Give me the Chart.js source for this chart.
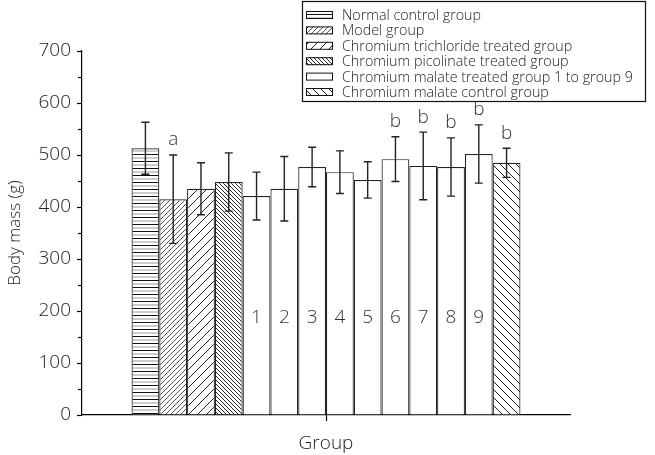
<!DOCTYPE html>
<html lang="en">
<head>
<meta charset="UTF-8">
<title>Body mass by group</title>
<script src="https://cdn.jsdelivr.net/npm/chart.js"></script>
<style>
  html, body { margin: 0; padding: 0; background: #fff; }
</style>
</head>
<body>
<canvas id="chart" width="655" height="455"></canvas>
<script>
// data
const groups = [
  "Normal control group", "Model group", "Chromium trichloride treated group",
  "Chromium picolinate treated group",
  "Group 1", "Group 2", "Group 3", "Group 4", "Group 5",
  "Group 6", "Group 7", "Group 8", "Group 9",
  "Chromium malate control group"
];
const means = [513, 415, 435, 448, 421, 435, 477, 467, 452, 492, 479, 477, 502, 485];
const sds   = [50, 85, 50, 56, 46, 62, 38, 41, 35, 43, 65, 56, 56, 28];
const marks = ["", "a", "", "", "", "", "", "", "", "b", "b", "b", "b", "b"];
const barNumbers = ["", "", "", "", "1", "2", "3", "4", "5", "6", "7", "8", "9", ""];
const fillKinds = ["hlines", "model", "crcl", "pico", "white", "white", "white", "white",
                   "white", "white", "white", "white", "white", "control"];
const legendNames = [
  "Normal control group", "Model group", "Chromium trichloride treated group",
  "Chromium picolinate treated group", "Chromium malate treated group 1 to group 9",
  "Chromium malate control group"
];
const legendBars = [0, 1, 2, 3, 4, 13];
const yMin = 0, yMax = 700, yStep = 100;

const FONT = "'Open Sans', 'Noto Sans', sans-serif";

function makePattern(kind) {
  if (kind === "white") return "#fff";
  const c = document.createElement("canvas");
  let s = 8;
  if (kind === "hlines") s = 7;
  if (kind === "model") s = 5;
  if (kind === "crcl") s = 9;
  if (kind === "pico") s = 4;
  if (kind === "control") s = 8;
  c.width = s; c.height = s;
  const g = c.getContext("2d");
  g.fillStyle = "#fff";
  g.fillRect(0, 0, s, s);
  if (kind === "hlines") {
    g.fillStyle = "#111";
    g.fillRect(0, 0, s, 1);
    g.fillStyle = "#999";
    g.fillRect(0, 3.5, s, 1);
  } else {
    const back = (kind === "pico" || kind === "control");
    g.strokeStyle = kind === "model" ? "#555" : "#222";
    g.lineWidth = 1;
    g.beginPath();
    for (let k = -1; k <= 1; k++) {
      if (back) {
        g.moveTo(k * s, 0); g.lineTo(k * s + s, s);
      } else {
        g.moveTo(k * s, s); g.lineTo(k * s + s, 0);
      }
    }
    g.stroke();
  }
  return g.createPattern(c, "repeat");
}

const fills = fillKinds.map(makePattern);

const datasets = groups.map((name, i) => ({
  label: name,
  data: [means[i]],
  backgroundColor: fills[i],
  borderColor: "#222",
  borderWidth: 1.2,
  barPercentage: 1,
  categoryPercentage: 0.797
}));

const extras = {
  id: "extras",
  afterDatasetsDraw(chart) {
    const ctx = chart.ctx;
    const y = chart.scales.y;
    ctx.save();
    // error bars
    ctx.strokeStyle = "#222";
    ctx.lineWidth = 1.4;
    groups.forEach((g, i) => {
      const bar = chart.getDatasetMeta(i).data[0];
      const top = y.getPixelForValue(means[i] + sds[i]);
      const bot = y.getPixelForValue(means[i] - sds[i]);
      ctx.beginPath();
      ctx.moveTo(bar.x, top); ctx.lineTo(bar.x, bot);
      ctx.moveTo(bar.x - 4, top); ctx.lineTo(bar.x + 4, top);
      ctx.moveTo(bar.x - 4, bot); ctx.lineTo(bar.x + 4, bot);
      ctx.stroke();
    });
    // group numbers inside bars, significance letters above
    ctx.fillStyle = "#333";
    ctx.font = "300 19px " + FONT;
    ctx.textAlign = "center";
    ctx.textBaseline = "middle";
    groups.forEach((g, i) => {
      const bar = chart.getDatasetMeta(i).data[0];
      if (barNumbers[i]) ctx.fillText(barNumbers[i], bar.x, y.getPixelForValue(188));
      if (marks[i]) ctx.fillText(marks[i], bar.x, y.getPixelForValue(means[i] + sds[i]) - 15);
    });
    // minor ticks on y
    ctx.strokeStyle = "#000";
    ctx.lineWidth = 1.2;
    const ax = chart.chartArea.left;
    for (let v = yMin + yStep / 2; v < yMax; v += yStep) {
      const py = Math.round(y.getPixelForValue(v)) + 0.5;
      ctx.beginPath(); ctx.moveTo(ax - 4, py); ctx.lineTo(ax, py); ctx.stroke();
    }
    // legend box
    ctx.lineWidth = 1.2;
    ctx.strokeStyle = "#111";
    ctx.strokeRect(302.5, 1.5, 343, 100);
    ctx.font = "300 14.3px " + FONT;
    ctx.textAlign = "left";
    legendNames.forEach((name, k) => {
      const cy = 15 + k * 15.4;
      ctx.fillStyle = fills[legendBars[k]];
      ctx.fillRect(306, cy - 4, 27, 8);
      ctx.lineWidth = 1;
      ctx.strokeRect(306.5, cy - 3.5, 26, 7);
      ctx.fillStyle = "#222";
      ctx.fillText(name, 342, cy + 1);
    });
    ctx.restore();
  }
};

new Chart(document.getElementById("chart"), {
  type: "bar",
  data: { labels: ["Group"], datasets: datasets },
  options: {
    responsive: false,
    animation: false,
    layout: { padding: { top: 51, right: 85, left: 0, bottom: 0 } },
    plugins: { legend: { display: false }, tooltip: { enabled: false } },
    scales: {
      x: {
        grid: { display: true, drawOnChartArea: false, offset: false, tickLength: 6, color: "#000", tickWidth: 1.2 },
        border: { color: "#000", width: 1.2 },
        ticks: { callback: () => "" },
        title: { display: true, text: "Group", color: "#222", font: { size: 19, weight: 300, family: FONT }, padding: 0 },
        afterFit(s) { s.height = 40; }
      },
      y: {
        min: yMin, max: yMax,
        ticks: { stepSize: yStep, color: "#222", font: { size: 19, weight: 300, family: FONT }, padding: 6 },
        grid: { drawOnChartArea: false, tickLength: 5, color: "#000", tickWidth: 1.2 },
        border: { color: "#000", width: 1.2 },
        title: { display: true, text: "Body mass (g)", color: "#222", font: { size: 17, weight: 300, family: FONT }, padding: { top: 5, bottom: 0 } },
        afterFit(s) { s.width = 82; }
      }
    }
  },
  plugins: [extras]
});
</script>
</body>
</html>
